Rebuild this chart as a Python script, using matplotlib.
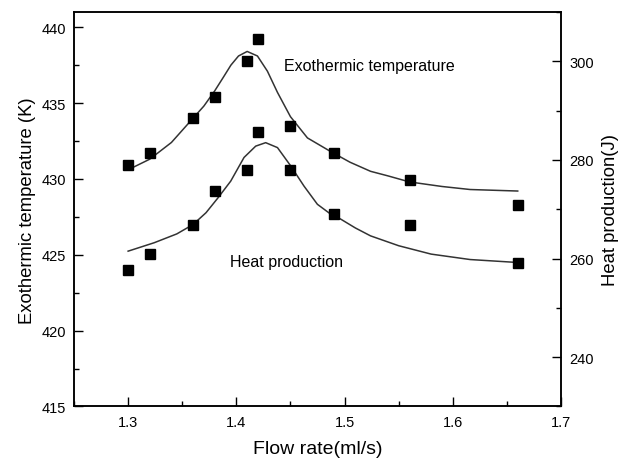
import matplotlib
matplotlib.use("Agg")
import matplotlib.pyplot as plt
from matplotlib.ticker import MultipleLocator

plt.rcParams['font.family'] = ['Liberation Sans', 'DejaVu Sans']

# measured points
flow = [1.30, 1.32, 1.36, 1.38, 1.41, 1.42, 1.45, 1.49, 1.56, 1.66]
temp = [430.9, 431.7, 434.0, 435.4, 437.8, 439.2, 433.5, 431.7, 429.9, 428.3]
heat = [257.7, 260.9, 266.8, 273.6, 277.9, 285.7, 277.9, 269.0, 266.8, 259.0]

# fitted curves
fit_x_t = [1.300, 1.320, 1.340, 1.360, 1.370, 1.380, 1.388, 1.395, 1.402, 1.410,
           1.4195, 1.4287, 1.438, 1.450, 1.4657, 1.4872, 1.505, 1.524, 1.540,
           1.560, 1.590, 1.616, 1.660]
fit_t = [430.6, 431.3, 432.4, 434.0, 434.8, 435.8, 436.7, 437.5, 438.1, 438.4,
         438.1, 437.1, 435.7, 434.1, 432.7, 431.8, 431.1, 430.5, 430.2,
         429.8, 429.5, 429.3, 429.2]

fit_x_h = [1.300, 1.324, 1.345, 1.360, 1.372, 1.383, 1.3948, 1.4071, 1.4179,
           1.4271, 1.438, 1.4502, 1.4625, 1.4749, 1.4872, 1.4964, 1.510, 1.524,
           1.550, 1.580, 1.616, 1.660]
fit_h = [261.5, 263.2, 265.0, 266.9, 269.3, 272.3, 275.7, 280.5, 282.8,
         283.5, 282.5, 278.8, 274.7, 271.0, 269.0, 268.0, 266.2, 264.6,
         262.6, 260.9, 259.8, 259.2]

fig = plt.figure(figsize=(6.23, 4.64), dpi=100)
ax = fig.add_axes([0.1188, 0.1218, 0.7817, 0.8502])
ax2 = ax.twinx()

ax.plot(fit_x_t, fit_t, color='#333333', lw=1.1)
ax.plot(flow, temp, 's', color='black', ms=6.8, ls='none')
ax2.plot(fit_x_h, fit_h, color='#333333', lw=1.1)
ax2.plot(flow, heat, 's', color='black', ms=6.8, ls='none')

ax.set_xlim(1.25, 1.70)
ax.set_ylim(415, 441)
ax2.set_ylim(230, 310)

ax.xaxis.set_major_locator(MultipleLocator(0.1))
ax.xaxis.set_minor_locator(MultipleLocator(0.05))
ax.yaxis.set_major_locator(MultipleLocator(5))
ax.yaxis.set_minor_locator(MultipleLocator(2.5))
ax2.yaxis.set_minor_locator(MultipleLocator(10))
ax2.set_yticks([240, 260, 280, 300])

for a in (ax, ax2):
    a.tick_params(which='major', direction='in', length=6.5, width=1, labelsize=10.5, pad=6)
    a.tick_params(which='minor', direction='in', length=3.5, width=1)
    for s in a.spines.values():
        s.set_linewidth(1.1)

ax.set_xlabel('Flow rate(ml/s)', fontsize=14, labelpad=8)
ax.set_ylabel('Exothermic temperature (K)', fontsize=13.3, labelpad=4)
ax2.set_ylabel('Heat production(J)', fontsize=13.3, labelpad=6)

ax.text(1.444, 437.5, 'Exothermic temperature', fontsize=11.5, va='center', ha='left')
ax.text(1.394, 424.56, 'Heat production', fontsize=11.5, va='center', ha='left')

fig.savefig('out.png', dpi=100)
